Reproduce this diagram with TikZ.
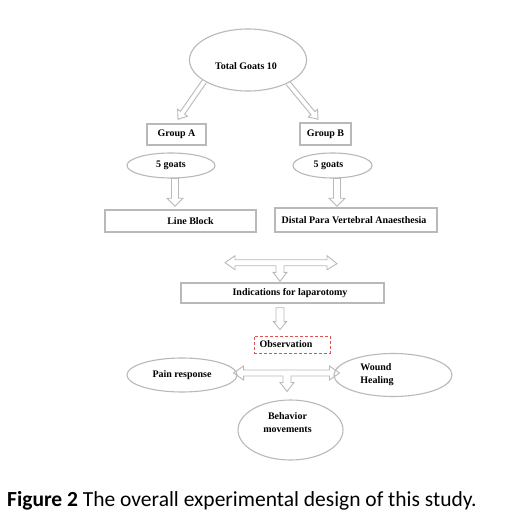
\documentclass[tikz,border=0pt]{standalone}
\usepackage{fontspec}
\setmainfont{Liberation Serif}
\newfontfamily\capfont{Carlito}
\usetikzlibrary{calc,shapes.geometric}
\definecolor{lg}{RGB}{185,185,185}
\definecolor{obsred}{RGB}{215,85,85}
% hollow arrow from #1 to #2: shaft half width #3, head half width #4, head length #5, tail end #6
\newcommand{\hollowarr}[6]{%
  \coordinate (hh) at ($(#2)!#5pt!(#1)$);
  \draw[arrowline] ($(#1)!#3pt!90:(#2)$) -- ($(hh)!#3pt!90:(#2)$) -- ($(hh)!#4pt!90:(#2)$) -- (#2)
    -- ($(hh)!#4pt!-90:(#2)$) -- ($(hh)!#3pt!-90:(#2)$) -- ($(#1)!#3pt!-90:(#2)$) #6;}
% T-shaped arrow: left tip #1, right tip #2, bottom tip #3
\newcommand{\tarrow}[3]{%
  \draw[arrowline] let \p1=(#1), \p2=(#2), \p3=(#3) in
   (\p1) -- (\x1+10pt,\y1+7pt) -- (\x1+10pt,\y1+3pt) -- (\x2-10pt,\y1+3pt) -- (\x2-10pt,\y1+7pt) -- (\p2)
   -- (\x2-10pt,\y1-7pt) -- (\x2-10pt,\y1-3pt) -- (\x3+4pt,\y1-3pt) -- (\x3+4pt,\y3+9pt)
   -- (\x3+7pt,\y3+9pt) -- (\p3) -- (\x3-7pt,\y3+9pt) -- (\x3-4pt,\y3+9pt) -- (\x3-4pt,\y1-3pt)
   -- (\x1+10pt,\y1-3pt) -- (\x1+10pt,\y1-7pt) -- cycle;}
\tikzset{
  txt/.style={font=\fontsize{10}{13}\selectfont\bfseries, text=black, inner sep=0pt},
  box/.style={draw=lg, line width=1.4pt, fill=white, inner sep=0pt},
  ell/.style={ellipse, draw=lg, line width=1.1pt, fill=white, inner sep=0pt},
  arrowline/.style={draw=lg, line width=0.9pt, line join=miter},
  obsbox/.style={draw=obsred, line width=0.8pt, dash pattern=on 3pt off 2pt, inner sep=0pt}
}
\begin{document}
\begin{tikzpicture}[x=1pt,y=-1pt]
\useasboundingbox[fill=white] (0,0) rectangle (510,529);
% nodes
\node[ell, minimum width=117, minimum height=62, label={[txt, shift={(-2,6)}]center:Total Goats 10}] (te) at (248,60) {};
\node[box, minimum width=59, minimum height=21, label={[txt]center:Group A}] (gA) at (176.5,134.5) {};
\node[box, minimum width=51, minimum height=22, label={[txt]center:Group B}] (gB) at (325.5,134) {};
\node[ell, minimum width=88, minimum height=25, label={[txt]center:5 goats}] (fA) at (171,165.5) {};
\node[ell, minimum width=79, minimum height=25, label={[txt, shift={(-4,0)}]center:5 goats}] (fB) at (332.5,165.5) {};
\node[box, minimum width=151, minimum height=22, label={[txt, shift={(10,0)}]center:Line Block}] (lb) at (180.5,221) {};
\node[box, minimum width=162, minimum height=24, label={[txt, shift={(-2,0)}]center:Distal Para Vertebral Anaesthesia}] (db) at (356,220) {};
\node[box, minimum width=203, minimum height=20, label={[txt, shift={(7.5,0)}]center:Indications for laparotomy}] (ind) at (282.5,293) {};
\node[obsbox, minimum width=76, minimum height=17, label={[txt, shift={(-6,0)}]center:Observation}] (obs) at (292,344.5) {};
\node[ell, minimum width=110, minimum height=34, label={[txt]center:Pain response}] (pr) at (182,375) {};
\node[ell, minimum width=118, minimum height=43, label={[txt, align=left, shift={(-16,0)}]center:Wound\\Healing}] (wh) at (393,375) {};
\node[ell, minimum width=105, minimum height=60, label={[txt, align=center, shift={(-3,-7)}]center:Behavior\\movements}] (bm) at (290.5,430) {};
% connectors
\hollowarr{te.206}{$(gA.north)+(1.5,-4)$}{2.5}{6}{8}{}
\hollowarr{te.330}{$(gB.north)+(-7.5,-3)$}{2.5}{6}{8}{}
\hollowarr{$(fA.south)+(4,0)$}{$(lb.north)+(-5.5,-3)$}{3.5}{8}{8}{-- cycle}
\hollowarr{$(fB.south)+(4.5,0)$}{$(db.north)+(-19,-1)$}{3.5}{8}{8}{-- cycle}
\coordinate (t1l) at ($(lb.south)+(44.5,30)$);
\coordinate (t1r) at ($(db.south)+(-19,31)$);
\coordinate (t1b) at ($(ind.north)+(-2.5,-1)$);
\tarrow{t1l}{t1r}{t1b}
\hollowarr{$(ind.south)+(-2.5,4)$}{$(obs.north)+(-12,-6)$}{4}{6.5}{8}{-- cycle}
\coordinate (t2l) at ($(pr.east)+(-4,-2)$);
\coordinate (t2r) at ($(wh.west)+(6,-2)$);
\coordinate (t2b) at ($(bm.north)+(-3.5,-8)$);
\tarrow{t2l}{t2r}{t2b}
% caption
\node[anchor=base west, inner sep=0pt, font=\capfont\fontsize{21.5}{24}\selectfont] (cap) at (7,506) {\textbf{Figure 2} The overall experimental design of this study.};
\end{tikzpicture}
\end{document}
